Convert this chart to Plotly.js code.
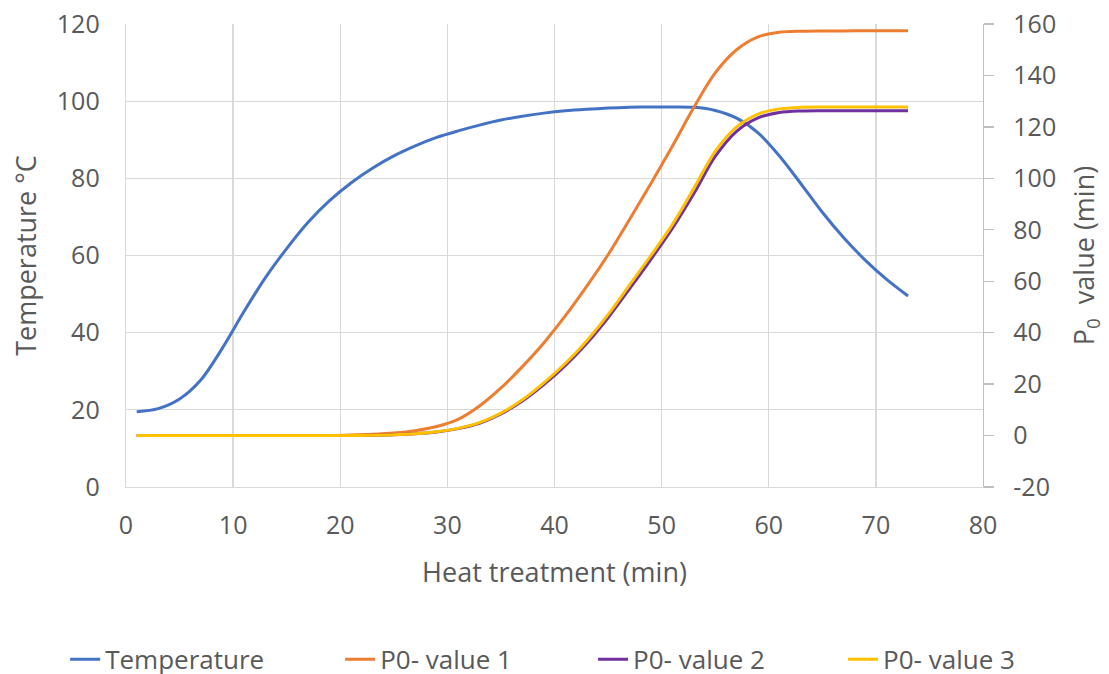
<!DOCTYPE html>
<html>
<head>
<meta charset="utf-8">
<script src="https://cdn.plot.ly/plotly-3.0.1.min.js"></script>
<style>
html,body{margin:0;padding:0;background:#fff;}
#chart{width:1109px;height:674px;}
</style>
</head>
<body>
<div id="chart"></div>
<script>
// Heat treatment time (min)
const time = [1,3,5,7,9,11,13,15,17,19,21,23,25,27,29,31,33,35,37,39,41,43,45,47,49,51,53,55,57,59,61,63,65,67,69,71,73];

// Temperature (°C), left axis
const temperature = [19.5,20.3,22.8,27.8,36.0,45.4,54.2,61.8,68.6,74.2,78.8,82.6,85.8,88.4,90.6,92.3,93.8,95.1,96.1,96.9,97.5,97.9,98.2,98.4,98.5,98.5,98.4,97.6,95.6,91.8,85.8,78.6,71.2,64.6,58.8,53.8,49.5];

// P0 values (min), right axis
const p0Value1 = [0,0,0,0,0,0,0,0,0,0,0.2,0.5,1.0,1.9,3.5,6.3,11.5,18.5,26.8,36.0,46.5,58.0,70.3,84.0,98.0,112.5,127.5,141.0,150.0,155.0,156.8,157.2,157.3,157.3,157.4,157.4,157.4];
const p0Value2 = [0,0,0,0,0,0,0,0,0,0,0,0.1,0.3,0.7,1.4,2.7,4.8,8.4,13.4,19.8,27.2,35.8,45.8,57.0,68.5,80.5,94.0,108.5,118.3,123.5,125.6,126.2,126.3,126.3,126.3,126.3,126.3];
const p0Value3 = [0,0,0,0,0,0,0,0,0,0,0,0.1,0.3,0.7,1.5,2.8,5.0,8.7,13.9,20.5,28.0,36.8,47.0,58.5,70.0,82.0,96.0,110.5,120.0,125.0,127.0,127.6,127.7,127.7,127.7,127.7,127.7];

const seriesNames = ["Temperature","P0- value 1","P0- value 2","P0- value 3"];
const seriesColors = ["#4472C4","#ED7D31","#7030A0","#FFC000"];

// Right-axis tick labels (as printed, with a plain hyphen)
const p0TickValues = [-20,0,20,40,60,80,100,120,140,160];
const p0TickLabels = ["-20","0","20","40","60","80","100","120","140","160"];

const FONT = "'Open Sans', 'Noto Sans', sans-serif";
const TXT = "#595959";
const TS = 25;
const TITLE = 27;

function lineTrace(y, i, axis, legend) {
  return {
    x: time, y: y, type: "scatter", mode: "lines",
    name: seriesNames[i], yaxis: axis, legend: legend,
    line: {color: seriesColors[i], width: 3, shape: "spline", smoothing: 0.9},
    hoverinfo: "x+y"
  };
}

const data = [
  lineTrace(temperature, 0, "y", "legend"),
  lineTrace(p0Value1, 1, "y2", "legend"),
  lineTrace(p0Value2, 2, "y2", "legend2"),
  lineTrace(p0Value3, 3, "y2", "legend2")
];

const legendBase = {
  orientation: "h", yanchor: "middle", y: -0.372, xanchor: "left",
  font: {family: FONT, size: 26, color: TXT},
  entrywidthmode: "pixels", itemwidth: 30, bgcolor: "rgba(0,0,0,0)"
};

const layout = {
  width: 1109, height: 674,
  margin: {l: 126, r: 126, t: 24, b: 187, autoexpand: false},
  paper_bgcolor: "#fff", plot_bgcolor: "#fff",
  font: {family: FONT, color: TXT, size: TS},
  showlegend: true,
  legend: Object.assign({}, legendBase, {x: -0.071, entrywidth: 230}),
  legend2: Object.assign({}, legendBase, {x: 0.545, entrywidth: 205}),
  xaxis: {
    range: [0, 80], dtick: 10, tick0: 0, automargin: false,
    showgrid: true, gridcolor: "#d9d9d9", gridwidth: 1.3,
    showline: true, linecolor: "#d9d9d9", linewidth: 1.3,
    zeroline: false, ticks: "",
    ticklabelstandoff: 16,
    tickfont: {family: FONT, size: TS, color: TXT},
    title: {text: "Heat treatment (min)", font: {family: FONT, size: TITLE, color: TXT}, standoff: 22}
  },
  yaxis: {
    range: [0, 120], dtick: 20, tick0: 0, automargin: false,
    showgrid: true, gridcolor: "#d9d9d9", gridwidth: 1.3,
    showline: true, linecolor: "#d9d9d9", linewidth: 1.3,
    zeroline: false, ticks: "",
    ticklabelstandoff: 20,
    tickfont: {family: FONT, size: TS, color: TXT},
    title: {text: "Temperature °C", font: {family: FONT, size: TITLE, color: TXT}, standoff: 12}
  },
  yaxis2: {
    overlaying: "y", side: "right", automargin: false,
    range: [-20, 160], tickmode: "array", tickvals: p0TickValues, ticktext: p0TickLabels,
    showgrid: false, zeroline: false,
    showline: true, linecolor: "#bfbfbf", linewidth: 1.3,
    ticks: "outside", ticklen: 10, tickcolor: "#bfbfbf", tickwidth: 1.3,
    ticklabelstandoff: 14,
    tickfont: {family: FONT, size: TS, color: TXT},
    title: {text: "P<sub>0</sub>  value (min)", font: {family: FONT, size: TITLE, color: TXT}, standoff: 20}
  }
};

Plotly.newPlot("chart", data, layout, {displayModeBar: false, staticPlot: true});
</script>
</body>
</html>
